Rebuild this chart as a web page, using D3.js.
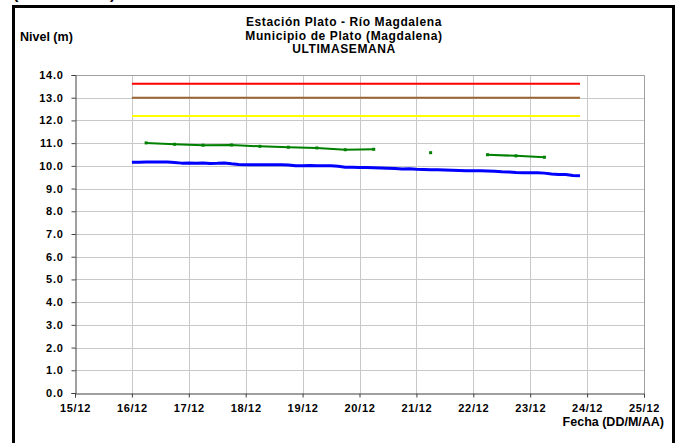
<!DOCTYPE html>
<html>
<head>
<meta charset="utf-8">
<script src="https://cdn.jsdelivr.net/npm/d3@7"></script>
<style>
  body { margin: 0; background: #fff; }
  svg text { font-family: "Liberation Sans", Arial, sans-serif; font-weight: bold; fill: #000; }
</style>
</head>
<body>
<div id="chart"></div>
<script>
// data
const titleLines = ["Estación Plato - Río Magdalena", "Municipio de Plato (Magdalena)", "ULTIMASEMANA"];
const yTicks = [0,1,2,3,4,5,6,7,8,9,10,11,12,13,14];
const xDomain = ["2010-12-15", "2010-12-25"];

// alert levels (red, brown, yellow)
const levelValues = [13.62, 13.0, 12.2];
const levelColors = ["#ff0000", "#996633", "#ffff00"];
const levelSpan = ["2010-12-16T00:00", "2010-12-23T21:00"];

// blue: automatic readings every 3 h from 16/12 00:00
const blueStart = "2010-12-16T00:00";
const blueValues = [10.16,10.16,10.17,10.17,10.17,10.17,10.15,10.12,10.13,10.12,10.13,10.10,10.11,10.13,10.09,10.06,10.05,
  10.05,10.05,10.05,10.05,10.05,10.04,10.00,10.01,10.02,10.00,10.01,10.00,9.98,9.94,9.94,9.93,
  9.93,9.92,9.91,9.90,9.88,9.86,9.87,9.85,9.84,9.83,9.83,9.82,9.81,9.80,9.79,9.78,
  9.78,9.77,9.76,9.74,9.73,9.71,9.70,9.70,9.70,9.68,9.64,9.62,9.62,9.58,9.56];

// green: manual readings at 06:00 and 18:00 (null = missing)
const greenStart = "2010-12-16T06:00";
const greenValues = [11.01,10.95,10.91,10.92,10.86,10.82,10.79,10.71,10.73,null,10.58,null,10.49,10.44,10.38];

const W = 679, H = 443;
const margin = {top: 75, right: 35, bottom: 50, left: 75};

const svg = d3.select("#chart").append("svg")
    .attr("width", W).attr("height", H);

const parse = d3.isoParse;
const x = d3.scaleTime()
    .domain(xDomain.map(d => parse(d)))
    .range([margin.left, W - margin.right]);
const y = d3.scaleLinear()
    .domain([0, 14])
    .range([H - margin.bottom, margin.top]);

// outer frame
svg.append("rect")
    .attr("x", 13.5).attr("y", 6.5)
    .attr("width", 660).attr("height", 470)
    .attr("fill", "none").attr("stroke", "#000").attr("stroke-width", 3);

// text cut off at the top edge
svg.append("text").attr("x", 13).attr("y", -1).attr("font-size", 16).text("(");
svg.append("text").attr("x", 110).attr("y", -1).attr("font-size", 16).text(")");

// grid
const grid = svg.append("g").attr("stroke", "#c8c8c8").attr("stroke-width", 1);
grid.selectAll(".hg").data(yTicks.slice(1)).join("line")
    .attr("x1", x.range()[0]).attr("x2", x.range()[1])
    .attr("y1", d => Math.round(y(d)) + 0.5).attr("y2", d => Math.round(y(d)) + 0.5);
grid.selectAll(".vg").data(x.ticks(d3.timeDay.every(1)).slice(1)).join("line")
    .attr("x1", d => Math.round(x(d)) + 0.5).attr("x2", d => Math.round(x(d)) + 0.5)
    .attr("y1", y(14)).attr("y2", y(0));

// plot border top/right
svg.append("path")
    .attr("d", `M${x.range()[0]},${Math.round(y(14)) + 0.5}H${Math.round(x.range()[1]) + 0.5}V${y(0)}`)
    .attr("fill", "none").attr("stroke", "#a0a0a0");

// axes
const yAxis = svg.append("g")
    .attr("transform", `translate(${Math.round(x.range()[0]) + 0.5},0)`)
    .call(d3.axisLeft(y).tickValues(yTicks).tickFormat(d3.format(".1f")).tickSize(4).tickPadding(8));
const xAxis = svg.append("g")
    .attr("transform", `translate(0,${Math.round(y(0)) + 0.5})`)
    .call(d3.axisBottom(x).ticks(d3.timeDay.every(1)).tickFormat(d3.timeFormat("%d/%m")).tickSize(4).tickPadding(7));
[yAxis, xAxis].forEach(a => {
  a.select(".domain").attr("stroke", "#404040");
  a.selectAll(".tick line").attr("stroke", "#404040");
  a.selectAll("text").attr("font-size", 11).attr("font-family", null)
    .attr("letter-spacing", "0.7px");
});

// alert level lines
svg.append("g").selectAll("line").data(levelValues).join("line")
    .attr("x1", x(parse(levelSpan[0]))).attr("x2", x(parse(levelSpan[1])))
    .attr("y1", d => y(d)).attr("y2", d => y(d))
    .attr("stroke", (d, i) => levelColors[i]).attr("stroke-width", 2);

// blue series
const blue = blueValues.map((v, i) => ({t: d3.timeHour.offset(parse(blueStart), 3 * i), v}));
svg.append("path").datum(blue)
    .attr("fill", "none").attr("stroke", "#0000ff").attr("stroke-width", 3)
    .attr("stroke-linejoin", "round")
    .attr("d", d3.line().x(d => x(d.t)).y(d => y(d.v)));

// green series
const green = greenValues.map((v, i) => ({t: d3.timeHour.offset(parse(greenStart), 12 * i), v}));
svg.append("path").datum(green)
    .attr("fill", "none").attr("stroke", "#008000").attr("stroke-width", 2)
    .attr("d", d3.line().defined(d => d.v != null).x(d => x(d.t)).y(d => y(d.v)));
svg.append("g").selectAll("rect").data(green.filter(d => d.v != null)).join("rect")
    .attr("x", d => x(d.t) - 1.5).attr("y", d => y(d.v) - 1.5)
    .attr("width", 3).attr("height", 3).attr("fill", "#008000");

// titles
svg.append("g").selectAll("text").data(titleLines).join("text")
    .attr("x", 344).attr("y", (d, i) => 26 + i * 13.5)
    .attr("text-anchor", "middle").attr("font-size", 12)
    .attr("letter-spacing", "0.6px")
    .text(d => d);
svg.append("text").attr("x", 20).attr("y", 40.5).attr("font-size", 12.5).text("Nivel (m)");
svg.append("text").attr("x", 664).attr("y", 426).attr("text-anchor", "end")
    .attr("font-size", 12.5).text("Fecha (DD/M/AA)");
</script>
</body>
</html>
